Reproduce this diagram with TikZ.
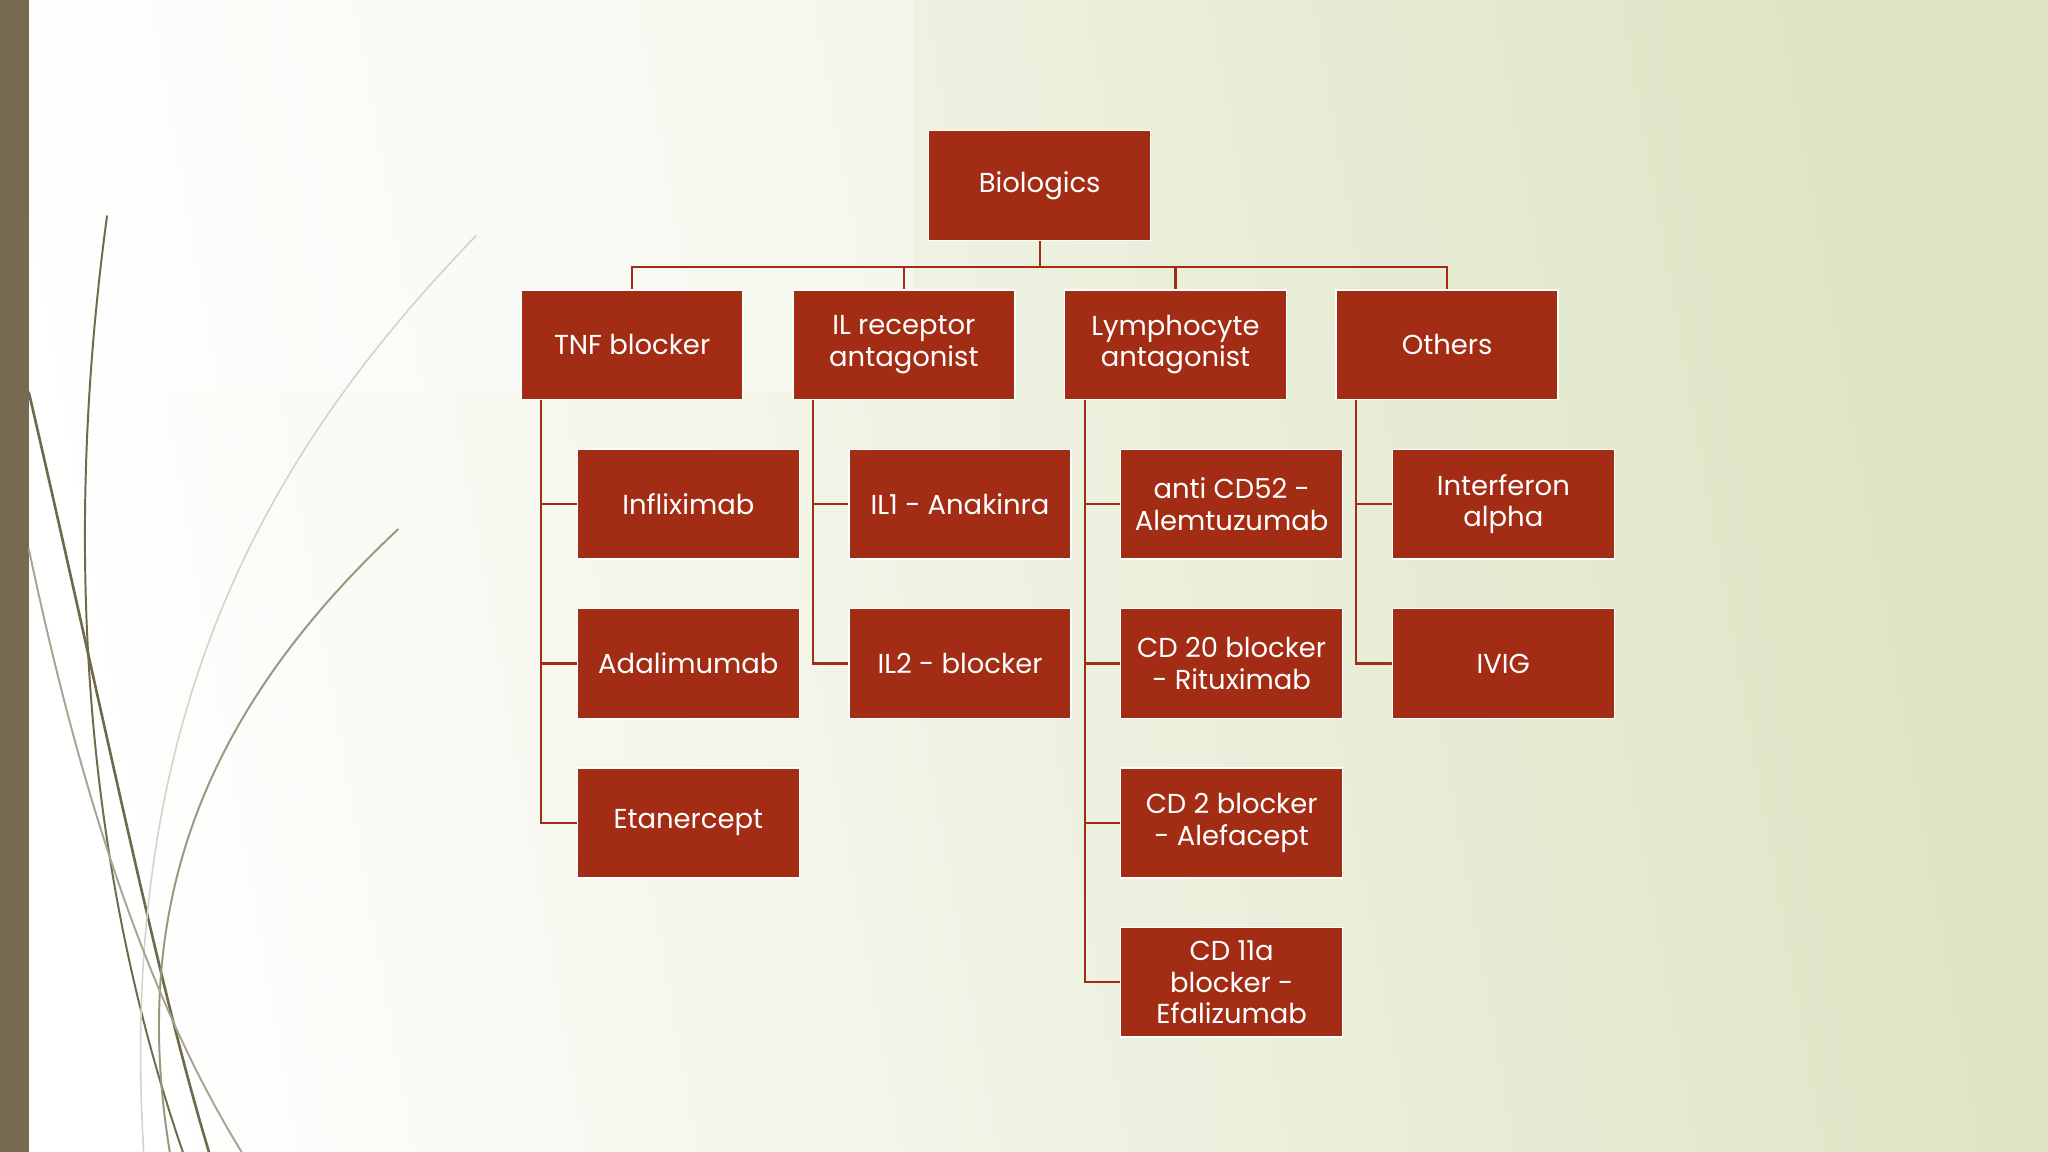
\documentclass[tikz,border=0pt]{standalone}
\usepackage{fontspec}
\setmainfont{Poppins}
\definecolor{boxred}{HTML}{A32C15}
\definecolor{bar}{HTML}{766B50}
\definecolor{olive}{HTML}{6F6A4A}
\definecolor{bgg}{HTML}{DCE4C2}
\begin{document}
\begin{tikzpicture}[x=1pt,y=-1pt,
  bx/.style={draw=white,line width=1.2pt,fill=boxred,text=white,minimum width=170pt,minimum height=84pt,inner sep=2pt,align=center,font=\fontsize{21}{24}\selectfont},
  ln/.style={draw=boxred,line width=1.6pt}]
\shade[left color=white,right color=bgg,shading angle=100] (0,0) rectangle (1568,882);
\fill[white,opacity=0.4] (0,0) rectangle (700,300);
\fill[bar] (0,0) rectangle (22,882);
\useasboundingbox (0,0) rectangle (1568,882);
% decorative curves
\draw[olive,line width=2pt] (22,300) .. controls (80,550) and (120,750) .. (160,882);
\draw[olive,line width=1.5pt] (82,165) .. controls (50,400) and (60,650) .. (140,882);
\draw[olive!70,line width=1.5pt] (305,405) .. controls (150,550) and (100,700) .. (130,882);
\draw[olive!30,line width=1.2pt] (365,180) .. controls (200,350) and (90,550) .. (110,882);
\draw[olive!60,line width=1.5pt] (22,420) .. controls (60,600) and (110,760) .. (185,882);
% nodes
\node[bx] (bio) at (796,142) {Biologics};
\node[bx] (tnf) at (484,264) {TNF blocker};
\node[bx] (il) at (692,264) {IL receptor\\antagonist};
\node[bx] (ly) at (900,264) {Lymphocyte\\antagonist};
\node[bx] (ot) at (1108,264) {Others};
\node[bx] (a1) at (527,386) {Infliximab};
\node[bx] (a2) at (527,508) {Adalimumab};
\node[bx] (a3) at (527,630) {Etanercept};
\node[bx] (b1) at (735,386) {IL1 - Anakinra};
\node[bx] (b2) at (735,508) {IL2 - blocker};
\node[bx] (c1) at (943,386) {anti CD52 -\\Alemtuzumab};
\node[bx] (c2) at (943,508) {CD 20 blocker\\- Rituximab};
\node[bx] (c3) at (943,630) {CD 2 blocker\\- Alefacept};
\node[bx] (c4) at (943,752) {CD 11a\\blocker -\\Efalizumab};
\node[bx] (d1) at (1151,386) {Interferon\\alpha};
\node[bx] (d2) at (1151,508) {IVIG};
% connectors
\foreach \p in {tnf,il,ly,ot} \draw[ln] (bio.south) -- ++(0,20) -| (\p.north);
\foreach \p/\c in {tnf/a1,tnf/a2,tnf/a3,il/b1,il/b2,ly/c1,ly/c2,ly/c3,ly/c4,ot/d1,ot/d2}
  \draw[ln] ([xshift=16pt]\p.south west) |- (\c.west);
\end{tikzpicture}
\end{document}
